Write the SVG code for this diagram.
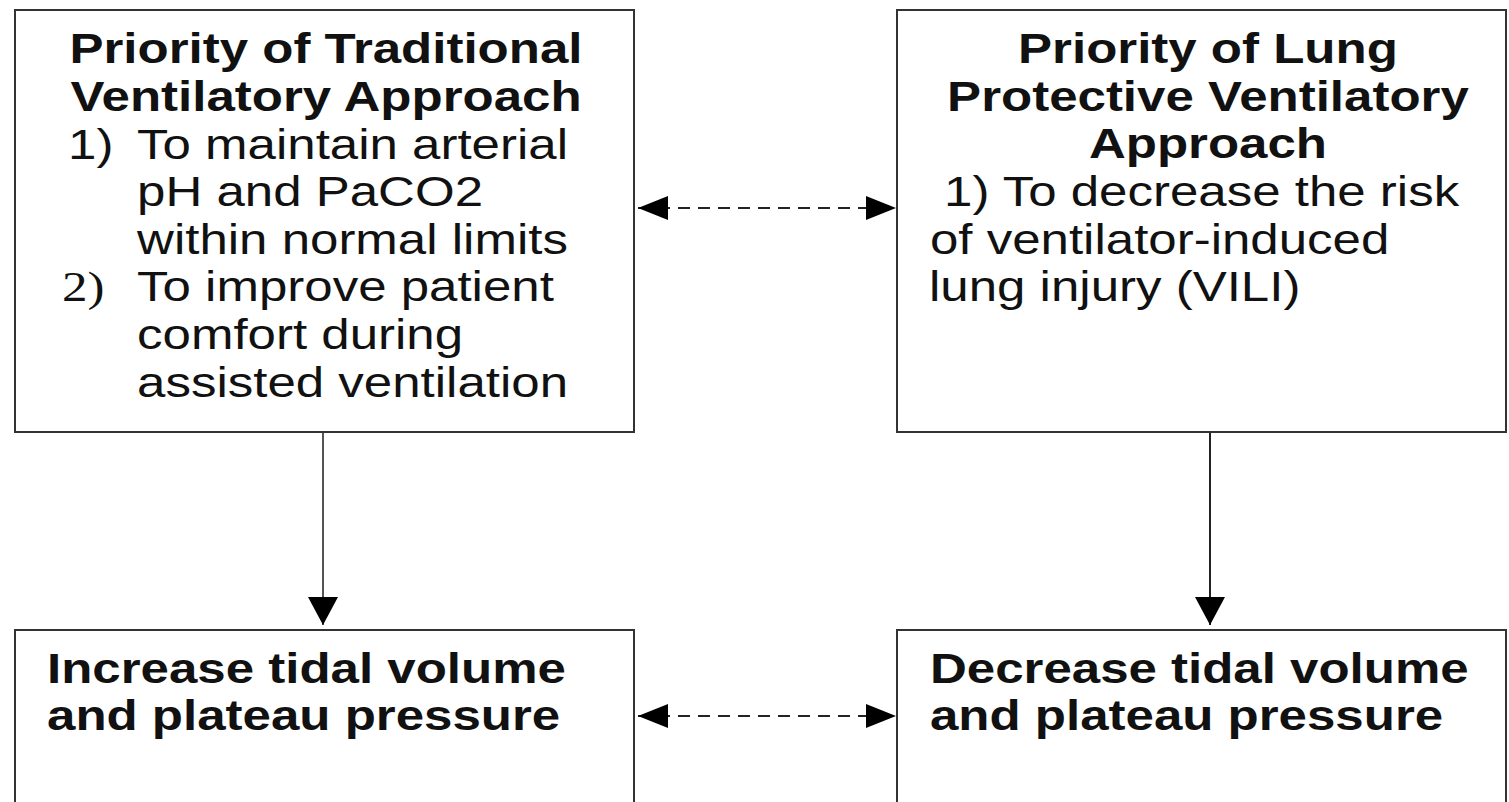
<svg xmlns="http://www.w3.org/2000/svg" width="1509" height="802" viewBox="0 0 1509 802">
  <style>
    .box { fill: #fff; stroke: #333; stroke-width: 2; }
    .txt { font-family: "Liberation Sans", Arial, sans-serif; font-size: 42px; fill: #111; }
    .b { font-weight: bold; }
    .mid { text-anchor: middle; }
    .num2 { font-family: "Liberation Serif", "Times New Roman", serif; }
    .link { fill: none; stroke: #222; stroke-width: 2; }
    .dash { stroke-dasharray: 12 8; }
  </style>
  <defs>
    <marker id="headH" viewBox="0 0 30 24" refX="30" refY="12" markerWidth="30" markerHeight="24" markerUnits="userSpaceOnUse" orient="auto-start-reverse">
      <path d="M0,0 L30,12 L0,24 Z" fill="#000"/>
    </marker>
    <marker id="headV" viewBox="0 0 28 30" refX="28" refY="15" markerWidth="28" markerHeight="30" markerUnits="userSpaceOnUse" orient="auto">
      <path d="M0,0 L28,15 L0,30 Z" fill="#000"/>
    </marker>
  </defs>

  <rect width="1509" height="802" fill="#fff"/>

  <!-- connectors -->
  <g id="connectors">
    <path class="link dash" d="M638,208 H896" marker-start="url(#headH)" marker-end="url(#headH)"/>
    <path class="link dash" d="M638,716 H896" marker-start="url(#headH)" marker-end="url(#headH)"/>
    <path class="link" style="stroke:#555" d="M323,433 V625" marker-end="url(#headV)"/>
    <path class="link" d="M1210,433 V625" marker-end="url(#headV)"/>
  </g>

  <!-- traditional approach -->
  <g id="traditional">
    <rect class="box" x="15" y="10" width="619" height="422"/>
    <g class="txt" transform="scale(1.215 1)">
      <text class="b mid" x="268.3" y="63">Priority of Traditional</text>
      <text class="b mid" x="268.3" y="110.7">Ventilatory Approach</text>
      <text x="56" y="159">1)</text>
      <text x="112.8" y="159">To maintain arterial</text>
      <text x="112.8" y="206.5">pH and PaCO2</text>
      <text x="112.8" y="254">within normal limits</text>
      <text class="num2" x="51" y="301.5">2)</text>
      <text x="112.8" y="301.5">To improve patient</text>
      <text x="112.8" y="349.2">comfort during</text>
      <text x="112.8" y="396.9">assisted ventilation</text>
    </g>
  </g>

  <!-- lung protective approach -->
  <g id="protective">
    <rect class="box" x="897" y="10" width="609" height="422"/>
    <g class="txt" transform="scale(1.215 1)">
      <text class="b mid" x="994.2" y="63">Priority of Lung</text>
      <text class="b mid" x="994.2" y="110.7">Protective Ventilatory</text>
      <text class="b mid" x="994.2" y="158.4">Approach</text>
      <text x="777" y="206.1">1) To decrease the risk</text>
      <text x="765.4" y="253.8">of ventilator-induced</text>
      <text x="764.6" y="301.5">lung injury (VILI)</text>
    </g>
  </g>

  <!-- increase tidal volume -->
  <g id="increase">
    <rect class="box" x="15" y="630" width="619" height="200"/>
    <g class="txt b" transform="scale(1.215 1)">
      <text x="38.7" y="683">Increase tidal volume</text>
      <text x="38.7" y="730">and plateau pressure</text>
    </g>
  </g>

  <!-- decrease tidal volume -->
  <g id="decrease">
    <rect class="box" x="897" y="630" width="609" height="200"/>
    <g class="txt b" transform="scale(1.215 1)">
      <text x="765.4" y="683">Decrease tidal volume</text>
      <text x="765.4" y="730">and plateau pressure</text>
    </g>
  </g>
</svg>
